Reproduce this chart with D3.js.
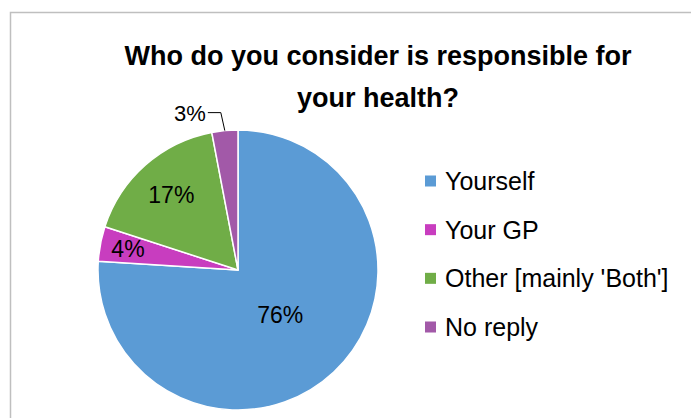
<!DOCTYPE html>
<html><head><meta charset="utf-8">
<script src="https://cdn.jsdelivr.net/npm/d3@7"></script>
<style>body{margin:0;background:#fff}svg{display:block}</style>
</head><body>
<svg id="c" width="691" height="418"></svg>
<script>
const titleLines = ["Who do you consider is responsible for", "your health?"];
const categories = ["Yourself", "Your GP", "Other [mainly 'Both']", "No reply"];
const values = [76, 4, 17, 3];
const labels = ["76%", "4%", "17%", "3%"];
const colors = ["#5B9BD5", "#C83DBF", "#70AD47", "#A259A8"];

const svg = d3.select("#c");
const font = "'Liberation Sans', Arial, sans-serif";

svg.append("rect").attr("x", 10.5).attr("y", 12.5).attr("width", 700).attr("height", 420)
  .attr("fill", "#fff").attr("stroke", "#BFBFBF").attr("stroke-width", 1.5);

svg.append("g").selectAll("text").data(titleLines).join("text")
  .attr("x", 378).attr("y", (d, i) => 65 + i * 42)
  .attr("text-anchor", "middle").attr("font-family", font)
  .attr("font-weight", "bold").attr("font-size", 27).attr("fill", "#000")
  .text(d => d);

const cx = 238, cy = 270, R = 140;
const data = categories.map((c, i) => ({ cat: c, value: values[i], label: labels[i], color: colors[i] }));
const pie = d3.pie().value(d => d.value).sort(null).startAngle(0).endAngle(2 * Math.PI);
const arcs = pie(data);
const arc = d3.arc().innerRadius(0).outerRadius(R);

const g = svg.append("g").attr("transform", `translate(${cx},${cy})`);
g.selectAll("path").data(arcs).join("path")
  .attr("d", arc).attr("fill", d => d.data.color)
  .attr("stroke", "#fff").attr("stroke-width", 1.5).attr("stroke-linejoin", "round");

const labelRadius = [0.44, 0.8, 0.72, null];
function pos(a, r) {
  const m = (a.startAngle + a.endAngle) / 2;
  return [Math.sin(m) * r, -Math.cos(m) * r];
}
arcs.forEach((a, i) => {
  if (labelRadius[i] !== null) {
    const [x, y] = pos(a, labelRadius[i] * R);
    g.append("text").attr("x", x).attr("y", y).attr("dy", "0.36em")
      .attr("text-anchor", "middle").attr("font-family", font).attr("font-size", 23)
      .attr("fill", "#000").text(a.data.label);
  } else {
    const [ex, ey] = pos(a, R);
    const lx = ex - 4, ly = ey - 18;
    g.append("polyline")
      .attr("points", [[ex, ey], [lx, ly], [lx - 13, ly]].map(p => p.join(",")).join(" "))
      .attr("fill", "none").attr("stroke", "#000").attr("stroke-width", 1);
    g.append("text").attr("x", lx - 15).attr("y", ly).attr("dy", "0.36em")
      .attr("text-anchor", "end").attr("font-family", font).attr("font-size", 22)
      .attr("fill", "#000").text(a.data.label);
  }
});

const leg = svg.append("g").attr("transform", "translate(425,0)");
const ly = d3.scalePoint().domain(categories).range([181, 327]);
const li = leg.selectAll("g").data(data).join("g")
  .attr("transform", d => `translate(0,${ly(d.cat)})`);
li.append("rect").attr("x", 0).attr("y", -5.5).attr("width", 11).attr("height", 11)
  .attr("fill", d => d.color);
li.append("text").attr("x", 20).attr("y", 0).attr("dy", "0.36em")
  .attr("font-family", font).attr("font-size", 25).attr("fill", "#000")
  .text(d => d.cat);
</script>
</body></html>
